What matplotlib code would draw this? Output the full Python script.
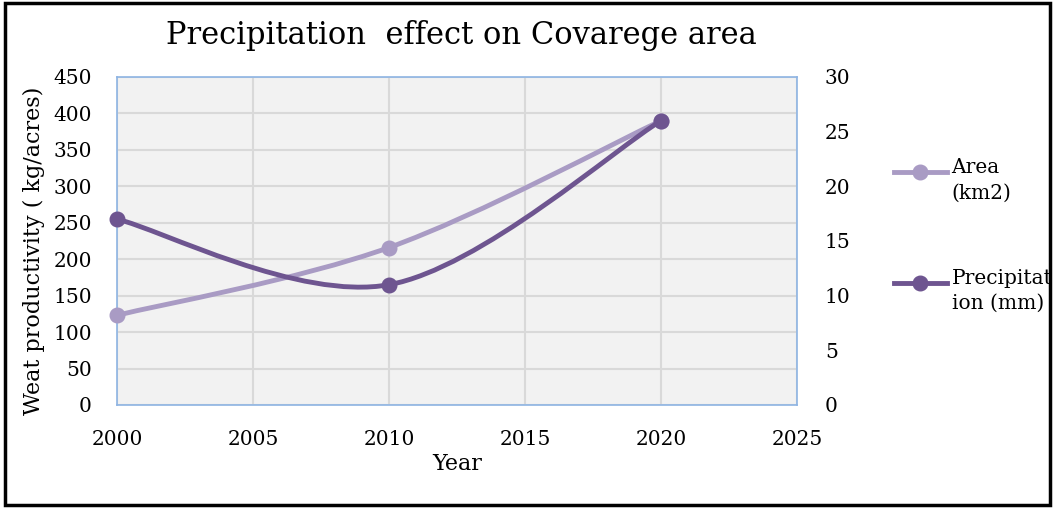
import numpy as np
import matplotlib.pyplot as plt
from matplotlib.path import Path
from matplotlib.patches import PathPatch, Rectangle
from matplotlib.lines import Line2D

# -----------------------------------
YEARS = [2000, 2010, 2020]
AREA = [123, 216, 390]          # left axis
PRECIP = [17, 11, 26]           # right axis
AREA_LABEL = 'Area\n(km2)'
PRECIP_LABEL = 'Precipitat\nion (mm)'
LEFT_TICKS = list(range(0, 451, 50))
RIGHT_TICKS = list(range(0, 31, 5))
X_TICKS = list(range(2000, 2026, 5))
C_AREA = '#A99BC4'
C_PRECIP = '#6E5590'
# -----------------------------------
plt.rcParams['font.family'] = ['DejaVu Serif']
FS = 14.5
LW = 3.5


def smooth_path(xs, ys):
    # Bezier segments like spreadsheet "smoothed line"
    pts = np.column_stack([xs, ys]).astype(float)
    n = len(pts)
    verts = [pts[0]]
    codes = [Path.MOVETO]
    for i in range(n - 1):
        p0 = pts[max(i - 1, 0)]
        p1 = pts[i]
        p2 = pts[i + 1]
        p3 = pts[min(i + 2, n - 1)]
        c1 = p1 + (p2 - p0) / 6.0
        c2 = p2 - (p3 - p1) / 6.0
        verts += [c1, c2, p2]
        codes += [Path.CURVE4] * 3
    return Path(verts, codes)


fig = plt.figure(figsize=(10.55, 5.08), dpi=100)
fig.patches.append(Rectangle((0.005, 0.006), 0.99, 0.988, transform=fig.transFigure,
                             fill=False, edgecolor='black', linewidth=2.5))

ax = fig.add_axes([0.1109, 0.2028, 0.6446, 0.6457])
ax.set_facecolor('#F2F2F2')
ax.set_xlim(2000, 2025)
ax.set_ylim(0, 450)
ax.set_xticks(X_TICKS)
ax.set_yticks(LEFT_TICKS)
ax.grid(True, color='#D9D9D9', linewidth=1.5)
ax.set_axisbelow(True)
for s in ax.spines.values():
    s.set_color('#8EB4E3')
    s.set_linewidth(1.2)
ax.tick_params(axis='both', length=0, labelsize=FS)
ax.tick_params(axis='x', pad=18)
ax.tick_params(axis='y', pad=18)

ax2 = ax.twinx()
ax2.set_ylim(0, 30)
ax2.set_yticks(RIGHT_TICKS)
ax2.tick_params(axis='y', length=0, labelsize=FS, pad=20)
for s in ax2.spines.values():
    s.set_visible(False)

# Area (left axis)
ax.add_patch(PathPatch(smooth_path(YEARS, AREA), facecolor='none', edgecolor=C_AREA,
                       linewidth=LW, capstyle='round'))
ax.plot(YEARS, AREA, 'o', color=C_AREA, markersize=10.5, clip_on=False, zorder=5)

# Precipitation (right axis)
ax2.add_patch(PathPatch(smooth_path(YEARS, PRECIP), facecolor='none', edgecolor=C_PRECIP,
                        linewidth=LW, capstyle='round'))
ax2.plot(YEARS, PRECIP, 'o', color=C_PRECIP, markersize=10.5, clip_on=False, zorder=5)

ax.set_xlabel('Year', fontsize=16, labelpad=3)
ax.set_ylabel('Weat productivity ( kg/acres)', fontsize=16)
ax.yaxis.set_label_coords(-0.106, 0.47)
fig.text(0.437, 0.931, 'Precipitation  effect on Covarege area', fontsize=22,
         ha='center', va='center')

# legend on the right
for y0, c, lab in [(0.661, C_AREA, AREA_LABEL), (0.443, C_PRECIP, PRECIP_LABEL)]:
    fig.add_artist(Line2D([0.847, 0.898], [y0, y0], color=c, linewidth=LW,
                          transform=fig.transFigure))
    fig.add_artist(Line2D([0.8725], [y0], marker='o', color=c, markersize=10.5,
                          transform=fig.transFigure))
    fig.text(0.902, y0 + 0.027, lab, fontsize=FS, ha='left', va='top', linespacing=1.4)

fig.savefig('out.png', dpi=100)
